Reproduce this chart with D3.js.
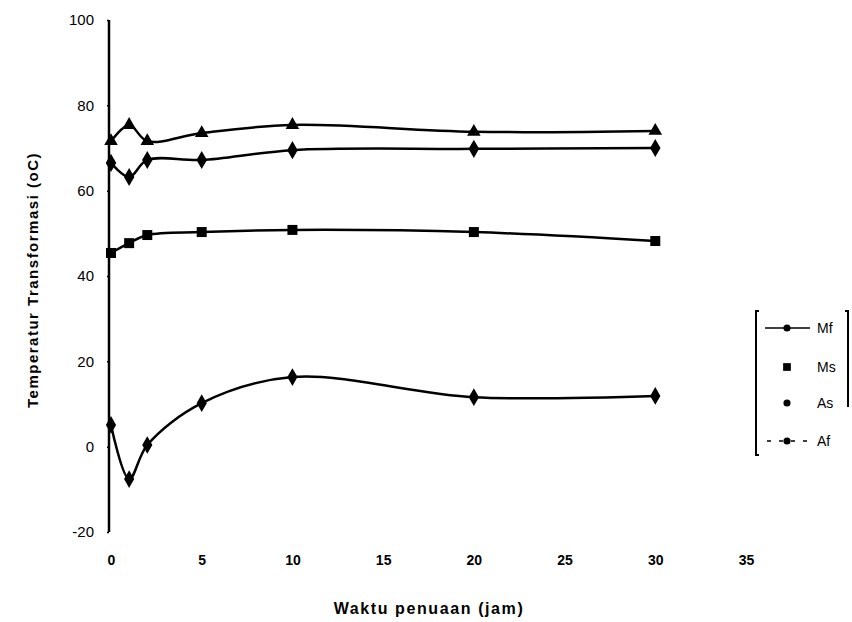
<!DOCTYPE html>
<html>
<head>
<meta charset="utf-8">
<script src="https://cdn.jsdelivr.net/npm/d3@7"></script>
<style>
  body { margin: 0; background: #fff; }
  svg { display: block; font-family: "Liberation Sans", Arial, sans-serif; }
</style>
</head>
<body>
<div id="chart"></div>
<script>
// waktu penuaan (jam)
var hours = [0, 1, 2, 5, 10, 20, 30];
// temperatur transformasi (oC)
var mf = [5.1, -7.6, 0.4, 10.2, 16.3, 11.6, 11.9];
var ms = [45.4, 47.7, 49.6, 50.3, 50.8, 50.3, 48.2];
var as = [66.5, 63.2, 67.2, 67.2, 69.5, 69.8, 70.0];
var af = [71.6, 75.4, 71.6, 73.5, 75.4, 73.8, 74.0];
var seriesNames = ["Mf", "Ms", "As", "Af"];
var xTicks = [0, 5, 10, 15, 20, 25, 30, 35];
var yTicks = [-20, 0, 20, 40, 60, 80, 100];

function drawChart(){

    var width = 852;
    var height = 622;

    var xScale = d3.scaleLinear()
    .domain([0, 35])
    .range([111, 746]);

    var yScale = d3.scaleLinear()
    .domain([-20, 100])
    .range([532, 20]);

    var svg = d3.select("#chart").append("svg")
    .attr("width", width)
    .attr("height", height);

    // y axis
    var yAxis = svg.append("g")
    .attr("class", "y axis")
    .attr("transform", "translate(109,0)")
    .call(d3.axisLeft(yScale).tickValues(yTicks).tickSize(2).tickPadding(13)
        .tickFormat(function(d){ return String(d); }));
    yAxis.select(".domain").attr("stroke-width", 2.5).attr("d", "M0," + yScale(100) + "V" + yScale(-20));
    yAxis.selectAll(".tick line").attr("stroke-width", 1.5);
    yAxis.selectAll("text").style("font-size", "15px").style("fill", "#000");

    // x axis: labels only
    var xAxis = svg.append("g")
    .attr("class", "x axis")
    .attr("transform", "translate(0,555)")
    .call(d3.axisBottom(xScale).tickValues(xTicks).tickSize(0).tickPadding(0));
    xAxis.select(".domain").remove();
    xAxis.selectAll("text")
    .style("font-size", "14px")
    .style("font-weight", "bold")
    .style("fill", "#000");

    svg.append("text")
    .attr("x", 429)
    .attr("y", 614)
    .style("text-anchor", "middle")
    .style("font-size", "16px")
    .style("font-weight", "bold")
    .style("letter-spacing", "1.6px")
    .text("Waktu penuaan (jam)");

    svg.append("text")
    .attr("transform", "translate(38,280) rotate(-90)")
    .style("text-anchor", "middle")
    .style("font-size", "15px")
    .style("font-weight", "bold")
    .style("letter-spacing", "1.5px")
    .text("Temperatur Transformasi (oC)");

    var line = d3.line()
    .x(function(d) { return xScale(d.x); })
    .y(function(d) { return yScale(d.y); })
    .curve(d3.curveCatmullRom.alpha(0.5));

    var symbols = [d3.symbolDiamond, d3.symbolSquare, d3.symbolDiamond, d3.symbolTriangle];
    var sizes = [90, 100, 95, 80];
    var allSeries = [mf, ms, as, af];

    allSeries.forEach(function(vals, i){
        var pts = hours.map(function(h, j){ return {x: h, y: vals[j]}; });
        svg.append("path")
        .datum(pts)
        .attr("fill", "none")
        .attr("stroke", "#000")
        .attr("stroke-width", 2.5)
        .attr("d", line);

        svg.append("g").selectAll("path")
        .data(pts)
        .enter().append("path")
        .attr("transform", function(d){ return "translate(" + xScale(d.x) + "," + yScale(d.y) + ")"; })
        .attr("d", d3.symbol().type(symbols[i]).size(sizes[i]))
        .attr("fill", "#000");
    });

    // legend
    var legend = svg.append("g");
    legend.append("path")
    .attr("d", "M759,311H756V455H759")
    .attr("fill", "none").attr("stroke", "#000").attr("stroke-width", 2);
    legend.append("path")
    .attr("d", "M845,311H848V407")
    .attr("fill", "none").attr("stroke", "#000").attr("stroke-width", 2);

    var legY = [328, 367, 403, 441];
    seriesNames.forEach(function(name, i){
        var g = legend.append("g").attr("transform", "translate(0," + legY[i] + ")");
        if (i == 0) {
            g.append("line").attr("x1", 765).attr("x2", 810)
            .attr("stroke", "#000").attr("stroke-width", 1.5);
        }
        if (i == 3) {
            g.append("line").attr("x1", 767).attr("x2", 808)
            .attr("stroke", "#000").attr("stroke-width", 1.5)
            .attr("stroke-dasharray", "4,8");
        }
        g.append("path")
        .attr("transform", "translate(787,0)")
        .attr("d", d3.symbol().type(i == 1 ? d3.symbolSquare : d3.symbolCircle).size(i == 1 ? 60 : 40))
        .attr("fill", "#000");
        g.append("text")
        .attr("x", 817)
        .attr("dy", "0.35em")
        .style("font-size", "14px")
        .text(name);
    });
}

drawChart();
</script>
</body>
</html>
